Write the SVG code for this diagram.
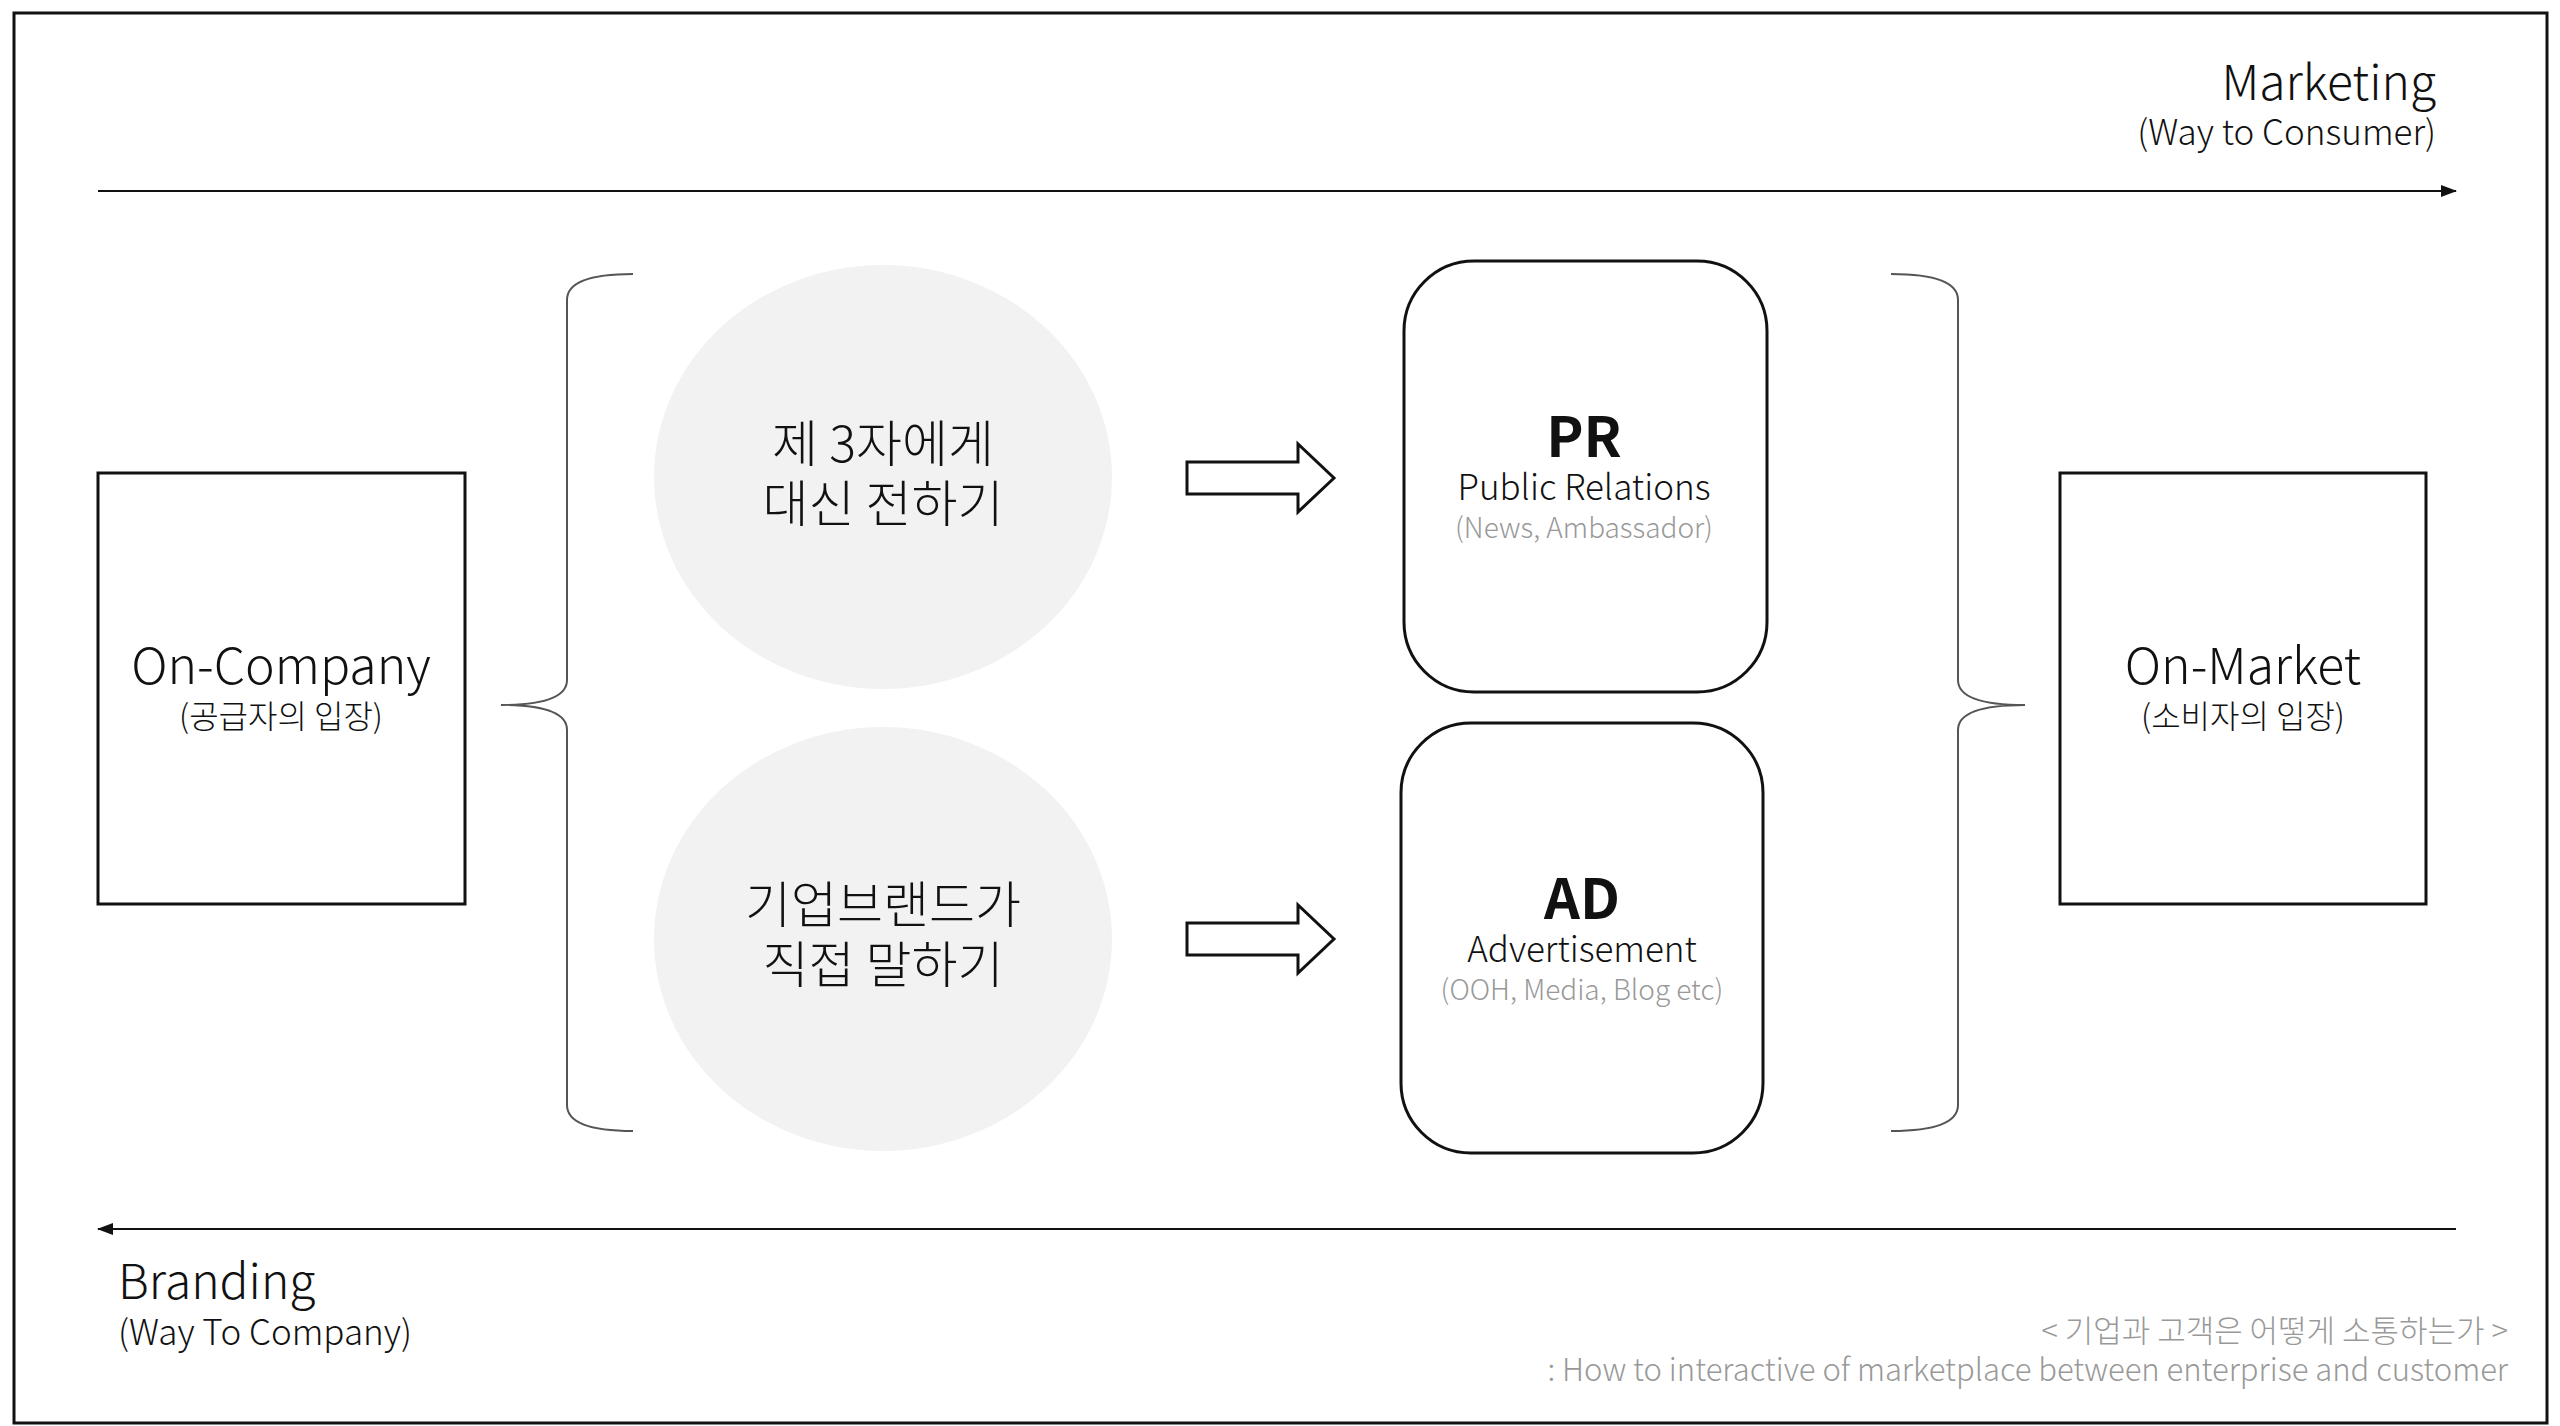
<svg xmlns="http://www.w3.org/2000/svg" width="2560" height="1426" viewBox="0 0 2560 1426">
<style>
text{font-family:"Noto Sans CJK KR","Noto Sans",sans-serif;font-weight:300;fill:#111}
.c{text-anchor:middle}
.r{text-anchor:end}
.g{fill:#999}
.box{fill:#fff;stroke:#111;stroke-width:3}
.br{fill:none;stroke:#555;stroke-width:2}
.ln{stroke:#111;stroke-width:2}
</style>
<defs>
<marker id="ah2" markerWidth="16" markerHeight="12" refX="15" refY="6" orient="auto" markerUnits="userSpaceOnUse" viewBox="0 0 16 12"><path d="M0,0L16,6L0,12z" fill="#111"/></marker>
</defs>
<rect x="0" y="0" width="2560" height="1426" fill="#fff"/>
<rect x="14" y="13" width="2533" height="1410" fill="none" stroke="#111" stroke-width="3"/>
<g id="connectors">
<line class="ln" x1="98" y1="191" x2="2456" y2="191" marker-end="url(#ah2)"/>
<line class="ln" x1="2456" y1="1229" x2="98" y2="1229" marker-end="url(#ah2)"/>
<path d="M1187,462H1298V444L1334,478L1298,512V494H1187Z" fill="#fff" stroke="#111" stroke-width="3"/>
<path d="M1187,923H1298V905L1334,939L1298,973V955H1187Z" fill="#fff" stroke="#111" stroke-width="3"/>
</g>
<g id="labels">
<text class="r" x="2436" y="100" font-size="48">Marketing</text>
<text class="r" x="2436" y="145" font-size="35">(Way to Consumer)</text>
<text x="118" y="1299" font-size="48">Branding</text>
<text x="118" y="1345" font-size="35">(Way To Company)</text>
<text class="r g" x="2508" y="1342" font-size="31">&lt; 기업과 고객은 어떻게 소통하는가 &gt;</text>
<text class="r g" x="2508" y="1381" font-size="31">: How to interactive of marketplace between enterprise and customer</text>
</g>
<g id="on-company">
<rect class="box" x="98" y="473" width="367" height="431"/>
<text class="c" x="281" y="684" font-size="50">On-Company</text>
<text class="c" x="281" y="728" font-size="32">(공급자의 입장)</text>
</g>
<g id="on-market">
<rect class="box" x="2060" y="473" width="366" height="431"/>
<text class="c" x="2243" y="684" font-size="50">On-Market</text>
<text class="c" x="2243" y="728" font-size="32">(소비자의 입장)</text>
</g>
<g id="brace-left">
<path class="br" d="M633,274Q567,274 567,300V680Q567,705 501,705Q567,705 567,730V1105Q567,1131 633,1131"/>
</g>
<g id="brace-right">
<path class="br" d="M1891,274Q1958,274 1958,300V680Q1958,705 2025,705Q1958,705 1958,730V1105Q1958,1131 1891,1131"/>
</g>
<g id="circle-top">
<ellipse cx="883" cy="477" rx="229" ry="212" fill="#f2f2f2"/>
<text class="c" x="883" y="462" font-size="50">제 3자에게</text>
<text class="c" x="883" y="522" font-size="50">대신 전하기</text>
</g>
<g id="circle-bottom">
<ellipse cx="883" cy="939" rx="229" ry="212" fill="#f2f2f2"/>
<text class="c" x="883" y="923" font-size="50">기업브랜드가</text>
<text class="c" x="883" y="983" font-size="50">직접 말하기</text>
</g>
<g id="pr">
<rect class="box" x="1404" y="261" width="363" height="431" rx="70"/>
<text class="c" x="1584" y="457" font-size="56" style="font-weight:700">PR</text>
<text class="c" x="1584" y="500" font-size="35">Public Relations</text>
<text class="c g" x="1584" y="538" font-size="28">(News, Ambassador)</text>
</g>
<g id="ad">
<rect class="box" x="1401" y="723" width="362" height="430" rx="70"/>
<text class="c" x="1582" y="919" font-size="56" style="font-weight:700">AD</text>
<text class="c" x="1582" y="962" font-size="35">Advertisement</text>
<text class="c g" x="1582" y="1000" font-size="28">(OOH, Media, Blog etc)</text>
</g>
</svg>
